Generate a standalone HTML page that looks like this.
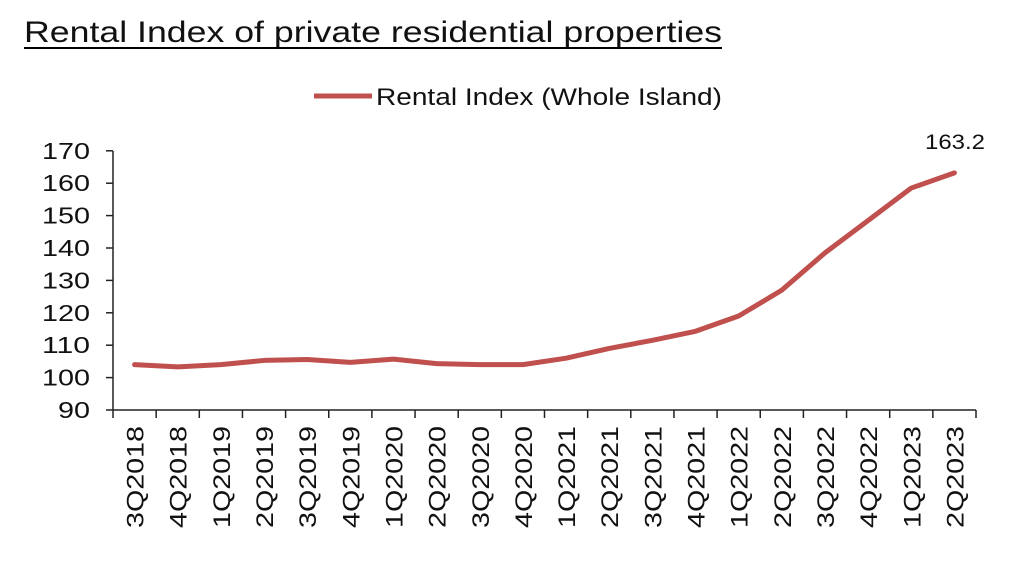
<!DOCTYPE html>
<html><head><meta charset="utf-8"><style>
body{margin:0;background:#fff;width:1024px;height:570px;overflow:hidden}
svg{display:block}
text{font-family:"Liberation Sans",Arial,sans-serif;fill:#111}
</style></head><body>
<svg width="1024" height="570" viewBox="0 0 1024 570">
<text x="24" y="42" font-size="30" fill="#000" textLength="698" lengthAdjust="spacingAndGlyphs">Rental Index of private residential properties</text>
<line x1="24" y1="48" x2="722" y2="48" stroke="#000" stroke-width="2"/>
<line x1="314" y1="96" x2="372" y2="96" stroke="#c0504d" stroke-width="5"/>
<text x="376" y="105" font-size="24" textLength="346" lengthAdjust="spacingAndGlyphs">Rental Index (Whole Island)</text>
<g stroke="#222" stroke-width="1.5">
<line x1="113" y1="151" x2="113" y2="410"/>
<line x1="113" y1="410" x2="976" y2="410"/>
</g>
<g id="yt" font-size="23" text-anchor="end"></g>
<polyline id="ln" fill="none" stroke="#c0504d" stroke-width="5" stroke-linejoin="round" stroke-linecap="round"/>
<text x="955" y="149" font-size="21" text-anchor="middle" textLength="60" lengthAdjust="spacingAndGlyphs">163.2</text>
</svg>
<script>
var ns="http://www.w3.org/2000/svg",s=document.querySelector('svg');
function Y(v){return 410-(v-90)*3.24}
var yt=document.getElementById('yt');
for(var v=90;v<=170;v+=10){var y=Y(v);
var l=document.createElementNS(ns,'line');l.setAttribute('x1',106);l.setAttribute('x2',113);l.setAttribute('y1',y);l.setAttribute('y2',y);l.setAttribute('stroke','#222');l.setAttribute('stroke-width','1.5');s.appendChild(l);
var t=document.createElementNS(ns,'text');t.setAttribute('x',90);t.setAttribute('y',y+8);t.setAttribute('textLength',v<100?32:48);t.setAttribute('lengthAdjust','spacingAndGlyphs');t.textContent=v;yt.appendChild(t);}
var labs=['3Q2018','4Q2018','1Q2019','2Q2019','3Q2019','4Q2019','1Q2020','2Q2020','3Q2020','4Q2020','1Q2021','2Q2021','3Q2021','4Q2021','1Q2022','2Q2022','3Q2022','4Q2022','1Q2023','2Q2023'];
var vals=[104,103.3,104,105.3,105.6,104.7,105.7,104.3,104,104,106,109,111.5,114.3,119,127,138.5,148.5,158.5,163.2];
var w=43.15,pts=[];
for(var i=0;i<=20;i++){var x=113+i*w;var l=document.createElementNS(ns,'line');l.setAttribute('x1',x);l.setAttribute('x2',x);l.setAttribute('y1',410);l.setAttribute('y2',418);l.setAttribute('stroke','#222');l.setAttribute('stroke-width','1.5');s.appendChild(l);}
for(var i=0;i<20;i++){var cx=113+(i+0.5)*w;pts.push(cx+','+Y(vals[i]));
var t=document.createElementNS(ns,'text');t.setAttribute('font-size','24');t.setAttribute('text-anchor','end');t.setAttribute('textLength','102');t.setAttribute('lengthAdjust','spacingAndGlyphs');t.setAttribute('transform','translate('+(cx+9)+',426) rotate(-90)');t.textContent=labs[i];s.appendChild(t);}
document.getElementById('ln').setAttribute('points',pts.join(' '));
</script>
</body></html>
